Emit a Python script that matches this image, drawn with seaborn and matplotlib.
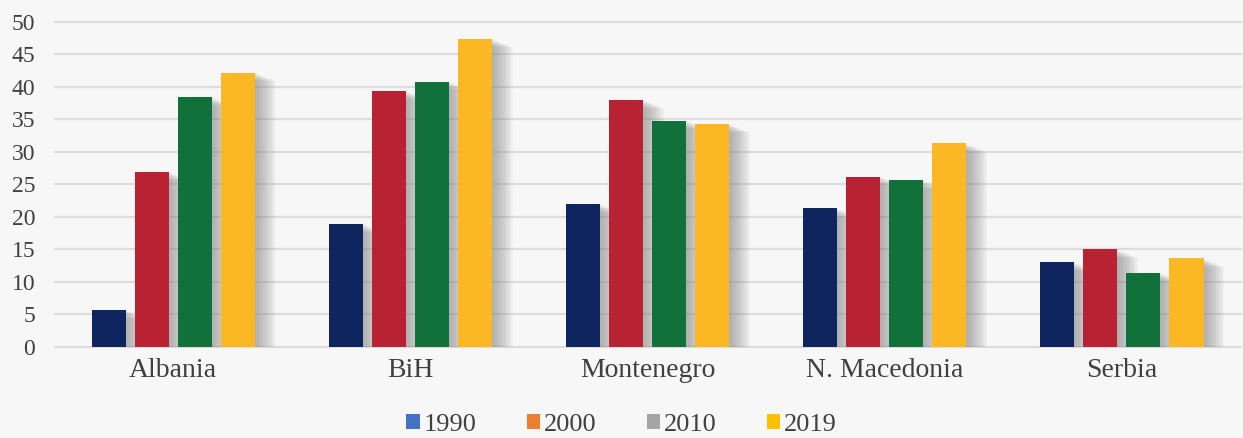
import matplotlib
matplotlib.use("Agg")
import matplotlib.pyplot as plt
import matplotlib.patheffects as pe
from matplotlib.patches import Patch
import seaborn as sns
import pandas as pd

countries = ["Albania", "BiH", "Montenegro", "N. Macedonia", "Serbia"]
years = ["1990", "2000", "2010", "2019"]
v1990 = [5.7, 18.9, 22.0, 21.3, 13.0]
v2000 = [26.9, 39.4, 38.0, 26.2, 15.0]
v2010 = [38.4, 40.8, 34.8, 25.6, 11.4]
v2019 = [42.2, 47.4, 34.3, 31.3, 13.6]
yticks = [0, 5, 10, 15, 20, 25, 30, 35, 40, 45, 50]

bar_colors = ["#0f2560", "#b82233", "#12703a", "#fbb824"]
legend_colors = ["#4472c4", "#ed7d31", "#a5a5a5", "#ffc000"]

rows = []
for yr, vals in zip(years, [v1990, v2000, v2010, v2019]):
    for c, v in zip(countries, vals):
        rows.append({"country": c, "year": yr, "value": v})
df = pd.DataFrame(rows)

sns.set_theme(style="white")
plt.rcParams["font.family"] = ["Liberation Serif", "DejaVu Serif"]

fig = plt.figure(figsize=(12.43, 4.38), dpi=100)
fig.patch.set_facecolor("#f7f7f7")
ax = fig.add_axes([0.044, 0.208, 0.954, 0.742])
ax.set_facecolor("#f7f7f7")

sns.barplot(data=df, x="country", y="value", hue="year", order=countries,
            hue_order=years, palette=bar_colors, width=0.726, gap=0.21,
            saturation=1, ax=ax, legend=False, zorder=3)

shadow = [pe.SimplePatchShadow(offset=(o, -o * 0.4), shadow_rgbFace="#808080", alpha=0.05)
          for o in [15, 14, 13, 12, 11, 10, 9, 8, 7, 6, 5, 4, 3, 2, 1]]
shadow.append(pe.Normal())
for p in ax.patches:
    p.set_path_effects(shadow)
    p.set_edgecolor("none")

ax.set_xlim(-0.5, 4.5)
ax.set_ylim(0, 50)
ax.set_yticks(yticks)
ax.set_yticklabels([str(t) for t in yticks])
for t in yticks:
    ax.axhline(t, color="#dcdcdc", lw=1.6, zorder=1, clip_on=False)
for s in ax.spines.values():
    s.set_visible(False)
ax.tick_params(axis="y", length=0, pad=14, labelsize=17, labelcolor="#404040")
ax.tick_params(axis="x", length=0, pad=8, labelsize=20, labelcolor="#404040")
ax.set_xlabel("")
ax.set_ylabel("")

handles = [Patch(facecolor=c, edgecolor="none", label=y) for c, y in zip(legend_colors, years)]
fig.legend(handles=handles, loc="center", bbox_to_anchor=(0.5, 0.03), ncol=4,
           frameon=False, fontsize=19, handlelength=0.5, handleheight=0.5,
           handletextpad=0.15, columnspacing=1.9, labelcolor="#404040")

fig.savefig("out.png", dpi=100, facecolor=fig.get_facecolor())
